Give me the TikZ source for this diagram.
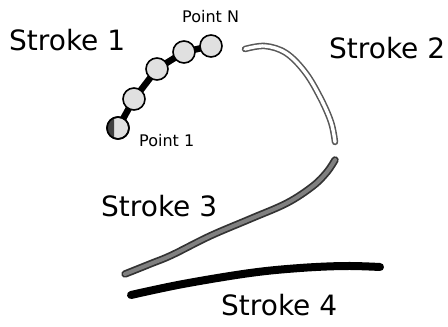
\documentclass[tikz,border=0pt]{standalone}
\usepackage{fontspec}
\setmainfont{DejaVu Sans}
\usetikzlibrary{backgrounds}
\begin{document}
\begin{tikzpicture}[x=1pt,y=-1pt,
  lbl/.style={font=\fontsize{28}{30}\selectfont, inner sep=0pt, anchor=west},
  plbl/.style={font=\fontsize{16}{18}\selectfont, inner sep=0pt, anchor=west},
  pt/.style={circle, draw=black, line width=1.6pt, fill=black!12, minimum size=22pt, inner sep=0pt},
  chain/.style={line width=6.5pt, black},
  line cap=round, line join=round]
\useasboundingbox (0,0) rectangle (448,327);
% Stroke 1 points
\node[pt] (p2) at (134,99) {};
\node[pt] (p3) at (157,69) {};
\node[pt] (p4) at (184,52) {};
\node[pt] (p5) at (211,46) {};
\node[pt] (p1) at (118,128) {};
\begin{scope}[on background layer]
\draw[chain] (p1.center) -- (p2.center);
\draw[chain] (p2.center) -- (p3.center);
\draw[chain] (p3.center) -- (p4.center);
\draw[chain] (p4.center) -- (p5.center);
\end{scope}
% half-dark first point
\begin{scope}
\clip (100,110) rectangle (114,146);
\fill[black!75] (p1.center) circle (11);
\end{scope}
\draw[black, line width=1.6pt] (p1.center) circle (11);
% Stroke 2 (hollow tube)
\draw[black!65, line width=6.5pt] plot[smooth, tension=0.6] coordinates {(245,49) (265,46) (286,53) (305,72) (320,97) (331,122) (335,142)};
\draw[white, line width=3.4pt] plot[smooth, tension=0.6] coordinates {(245,49) (265,46) (286,53) (305,72) (320,97) (331,122) (335,142)};
% Stroke 3
\draw[black!80, line width=7.5pt] plot[smooth, tension=0.6] coordinates {(125,274) (150,264) (172,255) (210,236) (250,219) (287,203) (313,186) (327,172) (335,160)};
\draw[black!50, line width=4pt] plot[smooth, tension=0.6] coordinates {(125,274) (150,264) (172,255) (210,236) (250,219) (287,203) (313,186) (327,172) (335,160)};
% Stroke 4
\draw[black, line width=8pt] plot[smooth, tension=0.6] coordinates {(131,295) (183,284) (250,273) (300,268) (345,266) (380,267)};
% labels
\node[lbl] (s1) at (9,40) {Stroke 1};
\node[lbl] (s2) at (329,48) {Stroke 2};
\node[lbl] (s3) at (101,206) {Stroke 3};
\node[lbl] (s4) at (221,305) {Stroke 4};
\node[plbl] (pn) at (182,17) {Point N};
\node[plbl] (p1l) at (139,141) {Point 1};
\end{tikzpicture}
\end{document}
